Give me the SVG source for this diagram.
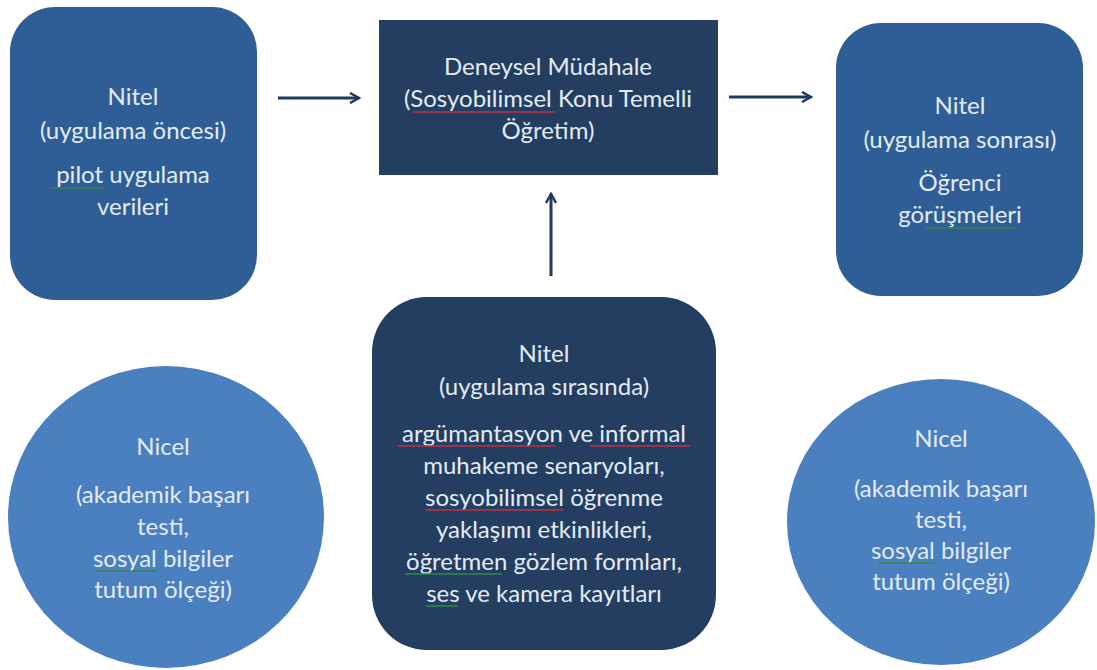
<svg xmlns="http://www.w3.org/2000/svg" width="1097" height="670" viewBox="0 0 1097 670">
<defs>
<style>
.t{font-family:Lato,"Open Sans","Liberation Sans",sans-serif;font-size:24px;fill:#e3ebf5;text-anchor:middle}
.mid{fill:#2f5e97}
.dark{fill:#233e61}
.light{fill:#4a7fc0}
.edge{stroke:#1f3a5f;stroke-width:3;fill:none}
.red{stroke:#c0304a;stroke-width:1.5;fill:none}
.grn{stroke:#2f8a4a;stroke-width:1.5;fill:none}
</style>
<marker id="ah" viewBox="0 0 12 12" refX="10" refY="6" markerWidth="12" markerHeight="12" markerUnits="userSpaceOnUse" orient="auto">
<path d="M1,1 L10,6 L1,11" fill="none" stroke="#1f3a5f" stroke-width="2.5"/>
</marker>
</defs>
<rect width="1097" height="670" fill="#ffffff"/>
<g id="connectors">
<line class="edge" x1="278" y1="98" x2="359" y2="98" marker-end="url(#ah)"/>
<line class="edge" x1="729" y1="97" x2="811" y2="97" marker-end="url(#ah)"/>
<line class="edge" x1="551" y1="276" x2="551" y2="194" marker-end="url(#ah)"/>
</g>
<g id="n-oncesi">
<rect class="mid" x="10" y="7" width="247" height="293" rx="45"/>
<text class="t" x="133" y="105">Nitel</text>
<text class="t" x="133" y="139">(uygulama öncesi)</text>
<text class="t" x="133" y="183">pilot uygulama</text>
<text class="t" x="133" y="215">verileri</text>
<line class="grn" x1="52" y1="188" x2="104" y2="188"/>
</g>
<g id="n-mudahale">
<rect class="dark" x="379" y="20" width="339" height="155"/>
<text class="t" x="548" y="75">Deneysel Müdahale</text>
<text class="t" x="548" y="107">(Sosyobilimsel Konu Temelli</text>
<text class="t" x="548" y="139">Öğretim)</text>
<line class="red" x1="413" y1="112" x2="555" y2="112"/>
</g>
<g id="n-sonrasi">
<rect class="mid" x="836" y="23" width="247" height="273" rx="45"/>
<text class="t" x="960" y="114">Nitel</text>
<text class="t" x="960" y="148">(uygulama sonrası)</text>
<text class="t" x="960" y="191">Öğrenci</text>
<text class="t" x="960" y="223">görüşmeleri</text>
<line class="grn" x1="925" y1="228" x2="1015" y2="228"/>
</g>
<g id="n-sirasinda">
<rect class="dark" x="372" y="297" width="344" height="353" rx="55"/>
<text class="t" x="544" y="362">Nitel</text>
<text class="t" x="544" y="395">(uygulama sırasında)</text>
<text class="t" x="544" y="442">argümantasyon ve informal</text>
<text class="t" x="544" y="474">muhakeme senaryoları,</text>
<text class="t" x="544" y="506">sosyobilimsel öğrenme</text>
<text class="t" x="544" y="538">yaklaşımı etkinlikleri,</text>
<text class="t" x="544" y="570">öğretmen gözlem formları,</text>
<text class="t" x="544" y="602">ses ve kamera kayıtları</text>
<line class="red" x1="398" y1="446" x2="556" y2="446"/>
<line class="red" x1="590" y1="446" x2="690" y2="446"/>
<line class="red" x1="426" y1="510" x2="563" y2="510"/>
<line class="grn" x1="405" y1="574" x2="502" y2="574"/>
<line class="grn" x1="426" y1="606" x2="458" y2="606"/>
</g>
<g id="nicel-left">
<ellipse class="light" cx="166" cy="517" rx="158" ry="151"/>
<text class="t" x="163" y="455">Nicel</text>
<text class="t" x="163" y="503">(akademik başarı</text>
<text class="t" x="163" y="535">testi,</text>
<text class="t" x="163" y="567">sosyal bilgiler</text>
<text class="t" x="163" y="598">tutum ölçeği)</text>
<line class="grn" x1="96" y1="571" x2="157" y2="571"/>
</g>
<g id="nicel-right">
<ellipse class="light" cx="941" cy="522" rx="154" ry="143"/>
<text class="t" x="941" y="447">Nicel</text>
<text class="t" x="941" y="497">(akademik başarı</text>
<text class="t" x="941" y="528">testi,</text>
<text class="t" x="941" y="559">sosyal bilgiler</text>
<text class="t" x="941" y="590">tutum ölçeği)</text>
<line class="grn" x1="878" y1="563" x2="935" y2="563"/>
</g>
</svg>
